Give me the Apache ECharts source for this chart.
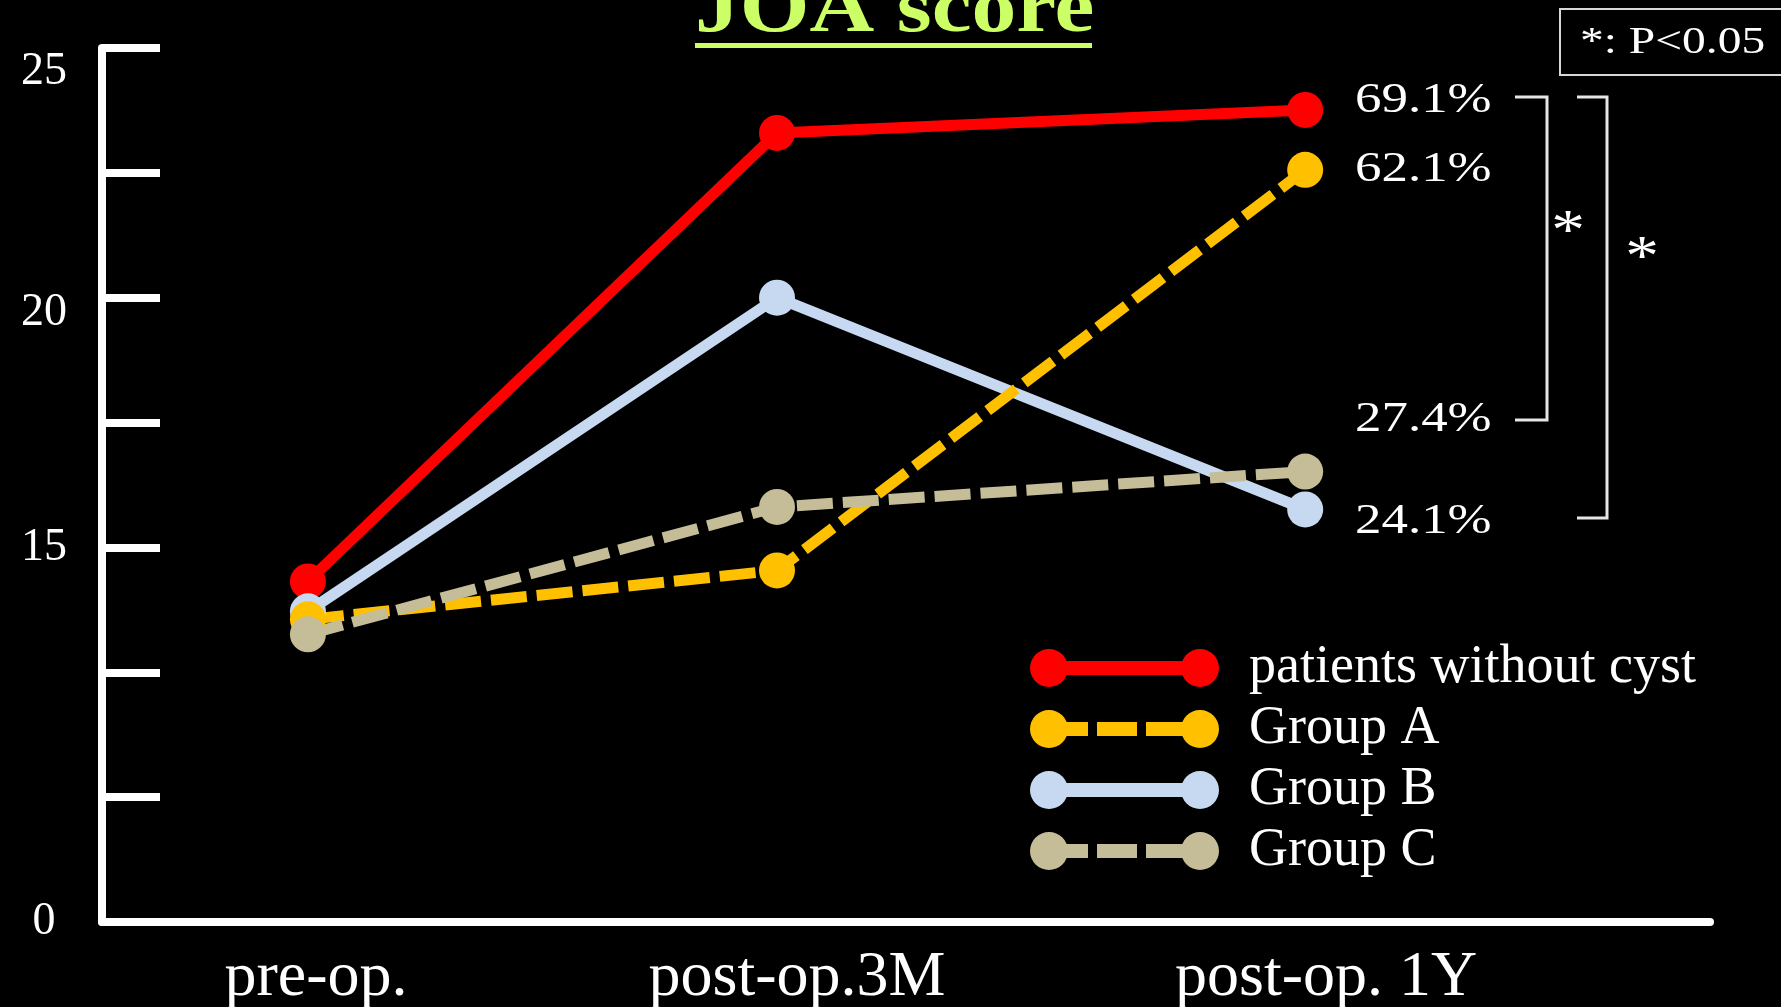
<!DOCTYPE html>
<html>
<head>
<meta charset="utf-8">
<script src="https://cdn.jsdelivr.net/npm/echarts@6/dist/echarts.min.js"></script>
<style>
  html, body { margin: 0; padding: 0; background: #000; }
  #chart { width: 1781px; height: 1007px; }
</style>
</head>
<body>
<div id="chart"></div>
<script>
// time points (uneven spacing as in the slide) and their labels
const timeLabels = ['pre-op.', 'post-op.3M', 'post-op. 1Y'];
const timePos = [0, 1, 2.126];

const seriesNames = ['patients without cyst', 'Group A', 'Group B', 'Group C'];
const noCyst = [14.32, 23.30, 23.76];
const groupA = [13.56, 14.54, 22.56];
const groupB = [13.72, 20.00, 15.76];
const groupC = [13.26, 15.81, 16.52];

// broken y axis: the bottom tick is labelled 0
const yTickValues = [25, 20, 15, 7.5];
const yTickText = ['25', '20', '15', '0'];

const pctLabels = ['69.1%', '62.1%', '27.4%', '24.1%'];

const colors = ['#ff0000', '#ffc000', '#c6d9f1', '#c4bd97'];
const serif = "'Liberation Serif', 'Times New Roman', serif";

function circ(cx, cy, r) {
  return 'M' + (cx - r) + ',' + cy + ' A' + r + ',' + r + ' 0 1,1 ' + (cx + r) + ',' + cy +
         ' A' + r + ',' + r + ' 0 1,1 ' + (cx - r) + ',' + cy + ' Z ';
}
function bar(x0, x1) {
  return 'M' + x0 + ',12 L' + x1 + ',12 L' + x1 + ',26 L' + x0 + ',26 Z ';
}
const iconSolid = 'path://' + circ(19, 19, 19) + bar(19, 170) + circ(170, 19, 19);
const iconDash = 'path://' + circ(19, 19, 19) + bar(19, 58) + bar(67, 107) + bar(116, 170) + circ(170, 19, 19);

function pts(vals) {
  return vals.map((v, i) => [timePos[i], v]);
}

function lineSeries(name, vals, color, dashed) {
  return {
    name: name,
    type: 'line',
    data: pts(vals),
    symbol: 'circle',
    symbolSize: 36,
    itemStyle: { color: color, borderWidth: 0 },
    lineStyle: { color: color, width: 11, type: dashed ? [36, 10] : 'solid' },
    emphasis: { disabled: true }
  };
}

const chart = echarts.init(document.getElementById('chart'));

const xLab = { color: '#fff', fontFamily: serif, fontSize: 64 };

const option = {
  backgroundColor: '#000',
  animation: false,
  grid: { left: 102, right: 71, top: 48, bottom: 85, outerBoundsMode: 'none' },
  xAxis: {
    type: 'value',
    min: -0.439,
    max: 2.989,
    splitLine: { show: false },
    axisTick: { show: false },
    axisLine: { onZero: false, lineStyle: { color: '#fff', width: 8 } },
    axisLabel: {
      customValues: timePos,
      margin: 24,
      color: '#fff',
      fontFamily: serif,
      fontSize: 64,
      formatter: function (v) {
        const i = timePos.indexOf(v);
        return i >= 0 ? '{l' + i + '|' + timeLabels[i] + '}' : '';
      },
      rich: {
        l0: Object.assign({ padding: [0, 0, 0, 16] }, xLab),
        l1: Object.assign({ padding: [0, 0, 0, 40] }, xLab),
        l2: Object.assign({ padding: [0, 0, 0, 42] }, xLab)
      }
    }
  },
  yAxis: {
    type: 'value',
    min: 7.5,
    max: 25,
    interval: 2.5,
    splitLine: { show: false },
    axisLine: { show: true, onZero: false, lineStyle: { color: '#fff', width: 8 } },
    axisTick: { show: true, inside: true, length: 58, lineStyle: { color: '#fff', width: 8 } },
    axisLabel: {
      margin: 58,
      align: 'center',
      color: '#fff',
      fontFamily: serif,
      fontSize: 46,
      formatter: function (v) {
        const i = yTickValues.indexOf(v);
        if (i < 0) return '';
        if (v === 25) return '{a|' + yTickText[i] + '}';
        if (v === 20) return '{b|' + yTickText[i] + '}';
        return yTickText[i];
      },
      rich: {
        a: { color: '#fff', fontFamily: serif, fontSize: 46, padding: [48, 0, 0, 0] },
        b: { color: '#fff', fontFamily: serif, fontSize: 46, padding: [30, 0, 0, 0] }
      }
    }
  },
  legend: {
    orient: 'vertical',
    left: 1030,
    top: 641,
    padding: 0,
    itemWidth: 189,
    itemHeight: 38,
    itemGap: 7,
    selectedMode: false,
    textStyle: { color: '#fff', fontFamily: serif, fontSize: 54, padding: [0, 0, 0, 25] },
    data: [
      { name: seriesNames[0], icon: iconSolid },
      { name: seriesNames[1], icon: iconDash },
      { name: seriesNames[2], icon: iconSolid },
      { name: seriesNames[3], icon: iconDash }
    ]
  },
  series: [
    lineSeries(seriesNames[0], noCyst, colors[0], false),
    lineSeries(seriesNames[2], groupB, colors[2], false),
    lineSeries(seriesNames[1], groupA, colors[1], true),
    lineSeries(seriesNames[3], groupC, colors[3], true)
  ],
  graphic: [
    {
      type: 'text', x: 695, y: 11, scaleX: 1.18,
      style: { text: 'JOA score', fill: '#ccff66', font: 'bold 76px ' + serif, align: 'left', verticalAlign: 'middle' }
    },
    { type: 'rect', shape: { x: 695, y: 43, width: 397, height: 5 }, style: { fill: '#ccff66' } },
    {
      type: 'rect', shape: { x: 1560, y: 9, width: 240, height: 66 },
      style: { fill: 'none', stroke: '#d8d8d8', lineWidth: 2 }
    },
    {
      type: 'text', x: 1580, y: 43, scaleX: 1.25,
      style: { text: '*: P<0.05', fill: '#fff', font: '38px ' + serif, align: 'left', verticalAlign: 'middle' }
    },
    {
      type: 'text', x: 1355, y: 101, scaleX: 1.26,
      style: { text: pctLabels[0], fill: '#fff', font: '42px ' + serif, align: 'left', verticalAlign: 'middle' }
    },
    {
      type: 'text', x: 1355, y: 170, scaleX: 1.26,
      style: { text: pctLabels[1], fill: '#fff', font: '42px ' + serif, align: 'left', verticalAlign: 'middle' }
    },
    {
      type: 'text', x: 1355, y: 420, scaleX: 1.26,
      style: { text: pctLabels[2], fill: '#fff', font: '42px ' + serif, align: 'left', verticalAlign: 'middle' }
    },
    {
      type: 'text', x: 1355, y: 522, scaleX: 1.26,
      style: { text: pctLabels[3], fill: '#fff', font: '42px ' + serif, align: 'left', verticalAlign: 'middle' }
    },
    {
      type: 'polyline', shape: { points: [[1515, 97], [1547, 97], [1547, 420], [1515, 420]] },
      style: { stroke: '#e6e6e6', lineWidth: 3, fill: 'none' }
    },
    {
      type: 'polyline', shape: { points: [[1577, 97], [1607, 97], [1607, 518], [1577, 518]] },
      style: { stroke: '#e6e6e6', lineWidth: 3, fill: 'none' }
    },
    {
      type: 'text', x: 1568, y: 234, scaleX: 1.2,
      style: { text: '*', fill: '#fff', font: '56px ' + serif, align: 'center', verticalAlign: 'middle' }
    },
    {
      type: 'text', x: 1642, y: 260, scaleX: 1.2,
      style: { text: '*', fill: '#fff', font: '56px ' + serif, align: 'center', verticalAlign: 'middle' }
    }
  ]
};

chart.setOption(option);
</script>
</body>
</html>
